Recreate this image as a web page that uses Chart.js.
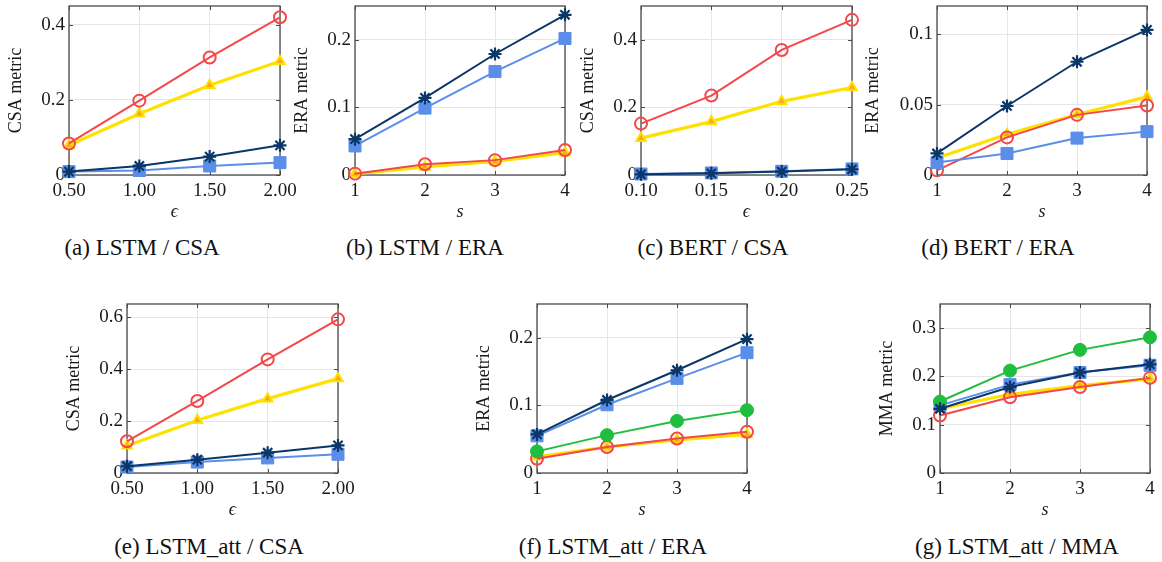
<!DOCTYPE html>
<html>
<head>
<meta charset="utf-8">
<script src="https://cdn.jsdelivr.net/npm/chart.js@4.4.0/dist/chart.umd.min.js"></script>
<style>
  body { margin: 0; width: 1162px; height: 562px; background: #fff; position: relative; overflow: hidden; font-family: "Liberation Serif", "Times New Roman", "DejaVu Serif", serif; }
  canvas { position: absolute; }
  .cap { position: absolute; font-size: 23px; color: #111; white-space: nowrap; transform: translate(-50%, -50%); }
</style>
</head>
<body>
<div class="cap" style="left:142px;top:248px">(a) LSTM / CSA</div>
<div class="cap" style="left:425px;top:248px">(b) LSTM / ERA</div>
<div class="cap" style="left:713px;top:248px">(c) BERT / CSA</div>
<div class="cap" style="left:998px;top:248px">(d) BERT / ERA</div>
<div class="cap" style="left:209px;top:547px">(e) LSTM_att / CSA</div>
<div class="cap" style="left:613px;top:547px">(f) LSTM_att / ERA</div>
<div class="cap" style="left:1017px;top:547px">(g) LSTM_att / MMA</div>
<script>
// x values and tick labels
var epsLstm = [0.5, 1.0, 1.5, 2.0];
var epsLstmLabels = ["0.50", "1.00", "1.50", "2.00"];
var epsBert = [0.10, 0.15, 0.20, 0.25];
var epsBertLabels = ["0.10", "0.15", "0.20", "0.25"];
var sSteps = [1, 2, 3, 4];
var sLabels = ["1", "2", "3", "4"];

// (a) LSTM / CSA
var aNavy = [0.009, 0.024, 0.049, 0.079];
var aBlue = [0.009, 0.012, 0.024, 0.033];
var aRed = [0.084, 0.198, 0.313, 0.420];
var aYellow = [0.079, 0.163, 0.239, 0.303];
var aYTicks = [0, 0.2, 0.4];

// (b) LSTM / ERA
var bNavy = [0.053, 0.114, 0.179, 0.237];
var bBlue = [0.043, 0.099, 0.153, 0.202];
var bRed = [0.002, 0.016, 0.022, 0.037];
var bYellow = [0.0015, 0.012, 0.020, 0.033];
var bYTicks = [0, 0.1, 0.2];

// (c) BERT / CSA
var cNavy = [0.002, 0.005, 0.010, 0.017];
var cBlue = [0.003, 0.006, 0.011, 0.018];
var cRed = [0.152, 0.235, 0.370, 0.459];
var cYellow = [0.109, 0.158, 0.218, 0.259];
var cYTicks = [0, 0.2, 0.4];

// (d) BERT / ERA
var dNavy = [0.0153, 0.049, 0.0804, 0.103];
var dBlue = [0.0088, 0.0153, 0.0262, 0.0308];
var dRed = [0.0033, 0.0267, 0.0427, 0.0494];
var dYellow = [0.012, 0.029, 0.043, 0.0555];
var dYTicks = [0, 0.05, 0.1];

// (e) LSTM_att / CSA
var eNavy = [0.026, 0.051, 0.078, 0.106];
var eBlue = [0.023, 0.042, 0.058, 0.072];
var eRed = [0.122, 0.277, 0.437, 0.591];
var eYellow = [0.105, 0.203, 0.286, 0.363];
var eYTicks = [0, 0.2, 0.4, 0.6];

// (f) LSTM_att / ERA
var fNavy = [0.057, 0.108, 0.152, 0.198];
var fBlue = [0.055, 0.101, 0.140, 0.178];
var fGreen = [0.032, 0.056, 0.077, 0.093];
var fRed = [0.021, 0.0385, 0.051, 0.061];
var fYellow = [0.024, 0.0385, 0.049, 0.057];
var fYTicks = [0, 0.1, 0.2];

// (g) LSTM_att / MMA
var gNavy = [0.133, 0.178, 0.208, 0.225];
var gBlue = [0.140, 0.183, 0.208, 0.223];
var gGreen = [0.148, 0.212, 0.255, 0.281];
var gRed = [0.119, 0.157, 0.178, 0.197];
var gYellow = [0.133, 0.163, 0.181, 0.195];
var gYTicks = [0, 0.1, 0.2, 0.3];

var styles = {
  navy: { borderColor: "#0b3768", pointBackgroundColor: "#0b3768", pointBorderColor: "#0b3768", pointStyle: "star", pointRadius: 6.5, pointBorderWidth: 2.2, borderWidth: 2 },
  green: { borderColor: "#1fbe3e", pointBackgroundColor: "#1fbe3e", pointBorderColor: "#1fbe3e", pointStyle: "circle", pointRadius: 6.5, pointBorderWidth: 1, borderWidth: 2 },
  blue: { borderColor: "#5b8ee8", pointBackgroundColor: "#5b8ee8", pointBorderColor: "#5b8ee8", pointStyle: "rect", pointRadius: 8.5, pointBorderWidth: 1, borderWidth: 2 },
  red: { borderColor: "#f4474a", pointBackgroundColor: "rgba(255,255,255,0)", pointBorderColor: "#f4474a", pointStyle: "circle", pointRadius: 6, pointBorderWidth: 2, borderWidth: 2 },
  yellow: { borderColor: "#ffe100", pointBackgroundColor: "#f7a81b", pointBorderColor: "#ffe100", pointStyle: "triangle", pointRadius: 5.5, pointBorderWidth: 2, borderWidth: 3.2 }
};

var panels = [
  { area: [69, 6, 211, 169], yw: 64, xs: epsLstm, xLabels: epsLstmLabels, xTitle: "\u03f5", yTitle: "CSA metric", ymax: 0.45, yTicks: aYTicks,
    series: { navy: aNavy, blue: aBlue, red: aRed, yellow: aYellow } },
  { area: [355, 6, 210, 169], yw: 64, xs: sSteps, xLabels: sLabels, xTitle: "s", yTitle: "ERA metric", ymax: 0.25, yTicks: bYTicks,
    series: { navy: bNavy, blue: bBlue, red: bRed, yellow: bYellow } },
  { area: [641, 6, 211, 169], yw: 64, xs: epsBert, xLabels: epsBertLabels, xTitle: "\u03f5", yTitle: "CSA metric", ymax: 0.5, yTicks: cYTicks,
    series: { navy: cNavy, blue: cBlue, red: cRed, yellow: cYellow } },
  { area: [937, 6, 210, 169], yw: 75, xs: sSteps, xLabels: sLabels, xTitle: "s", yTitle: "ERA metric", ymax: 0.12, yTicks: dYTicks,
    series: { navy: dNavy, blue: dBlue, red: dRed, yellow: dYellow } },
  { area: [127, 304, 211, 169], yw: 64, xs: epsLstm, xLabels: epsLstmLabels, xTitle: "\u03f5", yTitle: "CSA metric", ymax: 0.65, yTicks: eYTicks,
    series: { navy: eNavy, blue: eBlue, red: eRed, yellow: eYellow } },
  { area: [537, 304, 210, 169], yw: 64, xs: sSteps, xLabels: sLabels, xTitle: "s", yTitle: "ERA metric", ymax: 0.25, yTicks: fYTicks,
    series: { navy: fNavy, green: fGreen, blue: fBlue, red: fRed, yellow: fYellow } },
  { area: [940, 304, 210, 169], yw: 64, xs: sSteps, xLabels: sLabels, xTitle: "s", yTitle: "MMA metric", ymax: 0.35, yTicks: gYTicks,
    series: { navy: gNavy, green: gGreen, blue: gBlue, red: gRed, yellow: gYellow } }
];

// axis box with inward ticks, like pgfplots
var boxPlugin = {
  id: "box",
  beforeDatasetsDraw: function (chart) {
    var ctx = chart.ctx, a = chart.chartArea, sx = chart.scales.x, sy = chart.scales.y;
    ctx.save();
    ctx.strokeStyle = "#4a4a4a";
    ctx.lineWidth = 1;
    sx.ticks.forEach(function (t) {
      var px = Math.round(sx.getPixelForValue(t.value)) + 0.5;
      ctx.beginPath();
      ctx.moveTo(px, a.bottom); ctx.lineTo(px, a.bottom - 4);
      ctx.moveTo(px, a.top); ctx.lineTo(px, a.top + 4);
      ctx.stroke();
    });
    sy.ticks.forEach(function (t) {
      var py = Math.round(sy.getPixelForValue(t.value)) + 0.5;
      ctx.beginPath();
      ctx.moveTo(a.left, py); ctx.lineTo(a.left + 4, py);
      ctx.moveTo(a.right, py); ctx.lineTo(a.right - 4, py);
      ctx.stroke();
    });
    ctx.lineWidth = 1.3;
    ctx.strokeRect(a.left, a.top, a.right - a.left, a.bottom - a.top);
    ctx.restore();
  }
};

Chart.defaults.font.family = "'Liberation Serif', 'Times New Roman', 'DejaVu Serif', serif";
Chart.defaults.color = "#1a1a1a";

var padTop = 12, padRight = 22, xh = 48;

panels.forEach(function (p) {
  var canvas = document.createElement("canvas");
  var w = p.yw + p.area[2] + padRight;
  var h = padTop + p.area[3] + xh;
  canvas.width = w;
  canvas.height = h;
  canvas.style.left = (p.area[0] - p.yw) + "px";
  canvas.style.top = (p.area[1] - padTop) + "px";
  canvas.style.width = w + "px";
  canvas.style.height = h + "px";
  document.body.appendChild(canvas);

  var datasets = Object.keys(p.series).map(function (key) {
    var ys = p.series[key];
    var ds = {
      data: p.xs.map(function (x, i) { return { x: x, y: ys[i] }; }),
      clip: false,
      tension: 0
    };
    return Object.assign(ds, styles[key]);
  });

  var zeroPad = function (s) { s.paddingLeft = 0; s.paddingRight = 0; s.paddingTop = 0; s.paddingBottom = 0; };

  new Chart(canvas.getContext("2d"), {
    type: "line",
    data: { datasets: datasets },
    plugins: [boxPlugin],
    options: {
      responsive: false,
      animation: false,
      layout: { padding: { top: padTop, right: padRight, left: 0, bottom: 0 } },
      plugins: { legend: { display: false }, tooltip: { enabled: false } },
      scales: {
        x: {
          type: "linear",
          min: p.xs[0],
          max: p.xs[p.xs.length - 1],
          afterBuildTicks: function (s) { s.ticks = p.xs.map(function (v) { return { value: v }; }); },
          afterFit: function (s) { s.height = xh; zeroPad(s); },
          grid: { color: "#e6e6e6", drawTicks: false },
          border: { display: false },
          ticks: { padding: 5, font: { size: 19 }, maxRotation: 0, autoSkip: false,
            callback: function (v, i) { return p.xLabels[i]; } },
          title: { display: true, text: p.xTitle, font: { size: 18, style: "italic" }, padding: 0 }
        },
        y: {
          min: 0,
          max: p.ymax,
          afterBuildTicks: function (s) { s.ticks = p.yTicks.map(function (v) { return { value: v }; }); },
          afterFit: function (s) { s.width = p.yw; zeroPad(s); },
          grid: { color: "#e6e6e6", drawTicks: false },
          border: { display: false },
          ticks: { padding: 4, font: { size: 19 }, autoSkip: false,
            callback: function (v) { return String(v); } },
          title: { display: true, text: p.yTitle, font: { size: 18 }, padding: 0 }
        }
      }
    }
  });
});
</script>
</body>
</html>
